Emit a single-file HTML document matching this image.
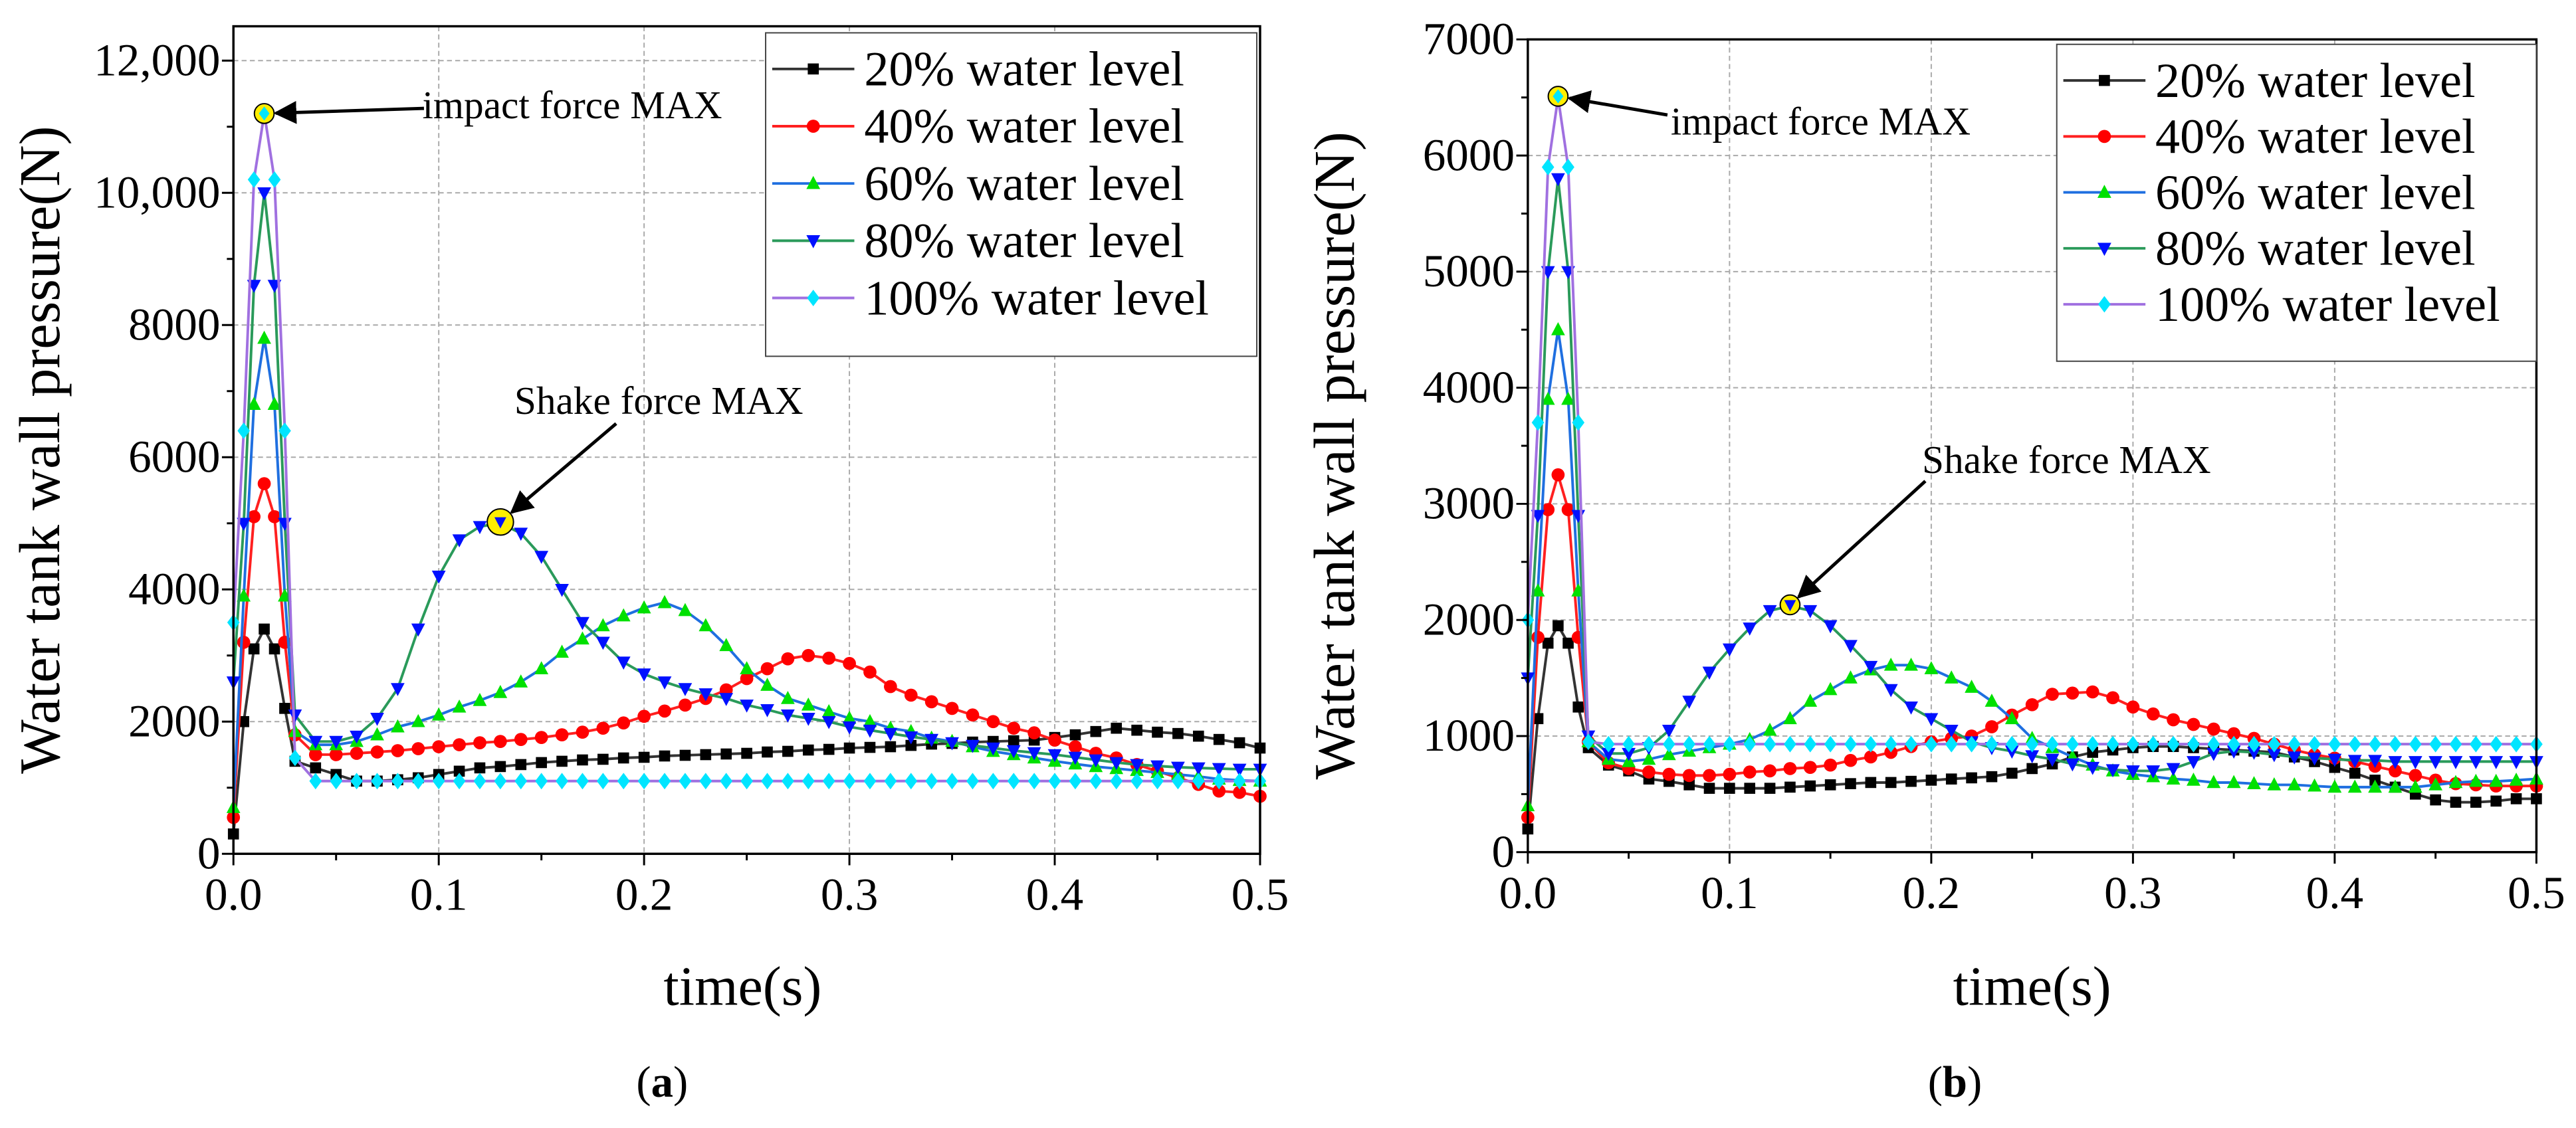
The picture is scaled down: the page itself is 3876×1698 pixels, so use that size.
<!DOCTYPE html>
<html><head><meta charset="utf-8">
<style>
html,body{margin:0;padding:0;background:#fff;}
svg{display:block;}
svg text{font-family:"Liberation Serif","Times New Roman",serif !important;}
</style></head>
<body>
<svg id="fig" width="3876" height="1698" viewBox="0 0 1568 687" font-family="Liberation Serif, serif" xmlns="http://www.w3.org/2000/svg">
<defs>
<marker id="ah" viewBox="0 0 10 10" refX="9" refY="5" markerWidth="7" markerHeight="7" orient="auto-start-reverse"><path d="M0,0 L10,5 L0,10 z" fill="#000"/></marker>
</defs>
</svg>
<script>
const times=[0,0.005,0.01,0.015,0.02,0.025,0.03,0.04,0.05,0.06,0.07,0.08,0.09,0.1,0.11,0.12,0.13,0.14,0.15,0.16,0.17,0.18,0.19,0.2,0.21,0.22,0.23,0.24,0.25,0.26,0.27,0.28,0.29,0.3,0.31,0.32,0.33,0.34,0.35,0.36,0.37,0.38,0.39,0.4,0.41,0.42,0.43,0.44,0.45,0.46,0.47,0.48,0.49,0.5];
const seriesNames=["20% water level","40% water level","60% water level","80% water level","100% water level"];
const xTicks=["0.0","0.1","0.2","0.3","0.4","0.5"];
const yTicksA=["0","2000","4000","6000","8000","10,000","12,000"];
const yTicksB=["0","1000","2000","3000","4000","5000","6000","7000"];
const a20=[300,2000,3100,3400,3100,2200,1400,1300,1200,1100,1100,1120,1150,1200,1250,1300,1320,1350,1380,1400,1420,1430,1450,1460,1480,1490,1500,1510,1520,1540,1550,1570,1580,1600,1610,1620,1640,1660,1670,1690,1700,1710,1720,1760,1800,1850,1900,1870,1840,1820,1780,1730,1680,1600];
const a40=[550,3200,5100,5600,5100,3200,1800,1500,1500,1520,1540,1560,1590,1620,1650,1680,1700,1730,1760,1800,1840,1900,1980,2080,2160,2250,2350,2480,2650,2800,2950,3000,2960,2880,2750,2530,2400,2300,2200,2100,2000,1900,1830,1720,1620,1520,1450,1350,1250,1150,1050,950,930,870];
const a60=[700,3900,6800,7800,6800,3900,1850,1650,1650,1700,1800,1920,2000,2100,2220,2320,2440,2600,2800,3050,3250,3450,3600,3720,3800,3680,3450,3150,2800,2550,2350,2250,2150,2050,2000,1900,1850,1750,1700,1620,1550,1500,1450,1400,1360,1320,1290,1260,1230,1200,1170,1130,1110,1100];
const a80=[2600,5000,8600,10000,8600,5000,2100,1700,1700,1780,2050,2500,3400,4200,4750,4950,5000,4850,4500,4000,3500,3200,2900,2720,2600,2500,2420,2350,2250,2180,2100,2050,2000,1920,1870,1820,1770,1730,1680,1640,1600,1560,1530,1500,1460,1420,1380,1350,1330,1310,1300,1290,1280,1280];
const a100=[3500,6400,10200,11200,10200,6400,1450,1100,1100,1100,1100,1100,1100,1100,1100,1100,1100,1100,1100,1100,1100,1100,1100,1100,1100,1100,1100,1100,1100,1100,1100,1100,1100,1100,1100,1100,1100,1100,1100,1100,1100,1100,1100,1100,1100,1100,1100,1100,1100,1100,1100,1100,1100,1100];
const b20=[200,1150,1800,1950,1800,1250,900,750,700,630,610,580,550,550,550,550,560,570,580,590,600,600,610,620,630,640,650,680,720,760,820,860,880,900,910,910,900,890,880,870,860,820,780,730,680,620,560,500,450,430,430,440,460,460];
const b40=[300,1850,2950,3250,2950,1850,950,770,720,690,670,660,660,670,690,700,720,730,750,790,820,860,910,950,980,1000,1080,1180,1270,1360,1370,1380,1330,1250,1190,1140,1100,1060,1020,980,930,880,840,810,780,740,700,660,620,590,580,570,570,570];
const b60=[400,2250,3900,4500,3900,2250,950,800,780,800,840,870,900,930,970,1050,1150,1300,1400,1500,1570,1610,1610,1580,1500,1420,1300,1150,980,900,820,750,700,670,650,630,620,600,600,590,580,580,570,560,560,560,560,560,580,600,610,610,620,630];
const b80=[1500,2900,5000,5800,5000,2900,1000,850,850,900,1050,1300,1550,1750,1930,2080,2120,2080,1950,1780,1600,1400,1250,1150,1050,950,900,870,830,800,760,730,710,700,700,720,780,850,870,860,840,820,810,800,790,790,780,780,780,780,780,780,780,780];
const b100=[2000,3700,5900,6500,5900,3700,950,930,930,930,930,930,930,930,930,930,930,930,930,930,930,930,930,930,930,930,930,930,930,930,930,930,930,930,930,930,930,930,930,930,930,930,930,930,930,930,930,930,930,930,930,930,930,930];

const NS="http://www.w3.org/2000/svg";
const svg=document.getElementById('fig');
function mk(tag,attrs,parent){const e=document.createElementNS(NS,tag);for(const k in attrs)e.setAttribute(k,attrs[k]);if(tag==='text')e.setAttribute('font-family','Liberation Serif, serif');(parent||svg).appendChild(e);return e;}
const lineCols=["#333333","#ff2020","#1f6fe0","#2a9a5a","#a070e0"];
const markCols=["#000000","#ff0000","#00e000","#0010ff","#00e5ff"];
const shapes=["square","circle","up","down","diamond"];
function marker(g,shape,x,y,c,s){
  let e;
  if(shape==="square")e=mk('rect',{x:x-s*0.8,y:y-s*0.8,width:s*1.6,height:s*1.6,fill:c},g);
  else if(shape==="circle")e=mk('circle',{cx:x,cy:y,r:s*0.95,fill:c},g);
  else if(shape==="up")e=mk('polygon',{points:`${x},${y-s*1.1} ${x-s},${y+s*0.8} ${x+s},${y+s*0.8}`,fill:c},g);
  else if(shape==="down")e=mk('polygon',{points:`${x},${y+s*1.1} ${x-s},${y-s*0.8} ${x+s},${y-s*0.8}`,fill:c},g);
  else e=mk('polygon',{points:`${x},${y-s*1.2} ${x-s*0.9},${y} ${x},${y+s*1.2} ${x+s*0.9},${y}`,fill:c},g);
  return e;
}
function panel(cfg){
  const {id,L,R,T,B,ymax,yTicks,yStep,data,leg,label,labelX,titleX,ann}=cfg;
  const g=mk('g',{});
  
  
  const xs=v=>L+(v/0.5)*(R-L);
  const ys=v=>B-(v/ymax)*(B-T);
  const grid=mk('g',{},g);
  
  
  for(let i=1;i<xTicks.length-1;i++){const x=xs(i*0.1);mk('line',{x1:x,x2:x,y1:T,y2:B,stroke:'#aaa','stroke-width':0.8,'stroke-dasharray':'3,2'},grid);}
  for(let i=1;i<yTicks.length;i++){const y=ys(i*yStep);if(y>T+1)mk('line',{x1:L,x2:R,y1:y,y2:y,stroke:'#aaa','stroke-width':0.8,'stroke-dasharray':'3,2'},grid);}
  data.forEach((arr,si)=>{
    const sg=mk('g',{},g);
    
    
    const pts=times.map((t,i)=>xs(t).toFixed(1)+','+ys(arr[i]).toFixed(1)).join(' ');
    mk('polyline',{points:pts,fill:'none',stroke:lineCols[si],'stroke-width':1.6,'stroke-linejoin':'round'},sg);
    times.forEach((t,i)=>{const m=marker(sg,shapes[si],xs(t),ys(arr[i]),markCols[si],4.2);
      
      });
  });
  const fr=mk('rect',{x:L,y:T,width:R-L,height:B-T,fill:'none',stroke:'#000','stroke-width':1.4},g);
  
  
  const xa=mk('g',{},g);
  
  
  for(let i=0;i<=10;i++){const x=xs(i*0.05);mk('line',{x1:x,x2:x,y1:B,y2:B+(i%2?4:7),stroke:'#000','stroke-width':1.2},xa);}
  xTicks.forEach((s,i)=>{const t=mk('text',{x:xs(i*0.1),y:B+34,'font-size':28,'text-anchor':'middle'},xa);t.textContent=s;
    
    });
  const ya=mk('g',{},g);
  
  
  for(let v=0;v<=ymax;v+=yStep/2){const y=ys(v);const major=Math.abs(v/yStep-Math.round(v/yStep))<1e-6;mk('line',{x1:L,x2:L-(major?7:4),y1:y,y2:y,stroke:'#000','stroke-width':1.2},ya);}
  yTicks.forEach((s,i)=>{const t=mk('text',{x:L-8,y:ys(i*yStep)+9,'font-size':28,'text-anchor':'end'},ya);t.textContent=s;
    
    });
  const yt=mk('text',{x:0,y:0,'font-size':35,'text-anchor':'middle',transform:`translate(${L-106},${(T+B)/2+6}) rotate(-90)`},g);
  yt.textContent='Water tank wall pressure(N)';
  
  
  const xt=mk('text',{x:titleX,y:612,'font-size':34,'text-anchor':'middle'},g);
  xt.textContent='time(s)';
  
  
  const pl=mk('text',{x:labelX,y:668,'font-size':27,'text-anchor':'middle'},g);
  pl.innerHTML='(<tspan font-weight="bold">'+label+'</tspan>)';
  
  
  const lg=mk('g',{},g);
  
  
  mk('rect',{x:leg.x,y:leg.y,width:leg.w,height:leg.h,fill:'#fff',stroke:'#444','stroke-width':0.8},lg);
  seriesNames.forEach((n,si)=>{
    const e=mk('g',{},lg);
    
    
    const y=leg.y+22+si*(leg.h-20)/5*0.985;
    mk('line',{x1:leg.x+4,x2:leg.x+54,y1:y,y2:y,stroke:lineCols[si],'stroke-width':1.6},e);
    marker(e,shapes[si],leg.x+29,y,markCols[si],4.2);
    const t=mk('text',{x:leg.x+60,y:y+10,'font-size':30},e);t.textContent=n;
  });
  ann.forEach(a=>{
    const ag=mk('g',{},g);
    
    
    const cx=xs(a.t),cy=ys(a.v);
    mk('circle',{cx:cx,cy:cy,r:a.r,fill:'#ffee00',stroke:'#000','stroke-width':0.8},ag);
    marker(ag,a.shape,cx,cy,a.mc,3.6);
    const dx=a.fx-cx,dy=a.fy-cy,d=Math.hypot(dx,dy);
    mk('line',{x1:a.fx,y1:a.fy,x2:cx+dx/d*(a.r+1),y2:cy+dy/d*(a.r+1),stroke:'#000','stroke-width':2,'marker-end':'url(#ah)'},ag);
    const t=mk('text',{x:a.tx,y:a.ty,'font-size':24},ag);t.textContent=a.text;
  });
}
panel({id:'panel-a',L:142,R:767,T:16,B:520,ymax:12520,yTicks:yTicksA,yStep:2000,
  data:[a20,a40,a60,a80,a100],leg:{x:466,y:20,w:299,h:197},label:'a',labelX:403,titleX:452,
  ann:[{name:'impact-force-max-annotation',t:0.015,v:11200,r:6,shape:'diamond',mc:'#00e5ff',fx:258,fy:66,tx:257,ty:72,text:'impact force MAX'},
       {name:'shake-force-max-annotation',t:0.13,v:5020,r:8,shape:'down',mc:'#0010ff',fx:375,fy:258,tx:313,ty:252,text:'Shake force MAX'}]});
panel({id:'panel-b',L:930,R:1544,T:24,B:519,ymax:7000,yTicks:yTicksB,yStep:1000,
  data:[b20,b40,b60,b80,b100],leg:{x:1252,y:27,w:292,h:193},label:'b',labelX:1190,titleX:1237,
  ann:[{name:'impact-force-max-annotation',t:0.015,v:6510,r:6,shape:'diamond',mc:'#00e5ff',fx:1015,fy:70,tx:1017,ty:82,text:'impact force MAX'},
       {name:'shake-force-max-annotation',t:0.13,v:2130,r:6,shape:'down',mc:'#0010ff',fx:1172,fy:293,tx:1170,ty:288,text:'Shake force MAX'}]});
</script>
</body></html>
